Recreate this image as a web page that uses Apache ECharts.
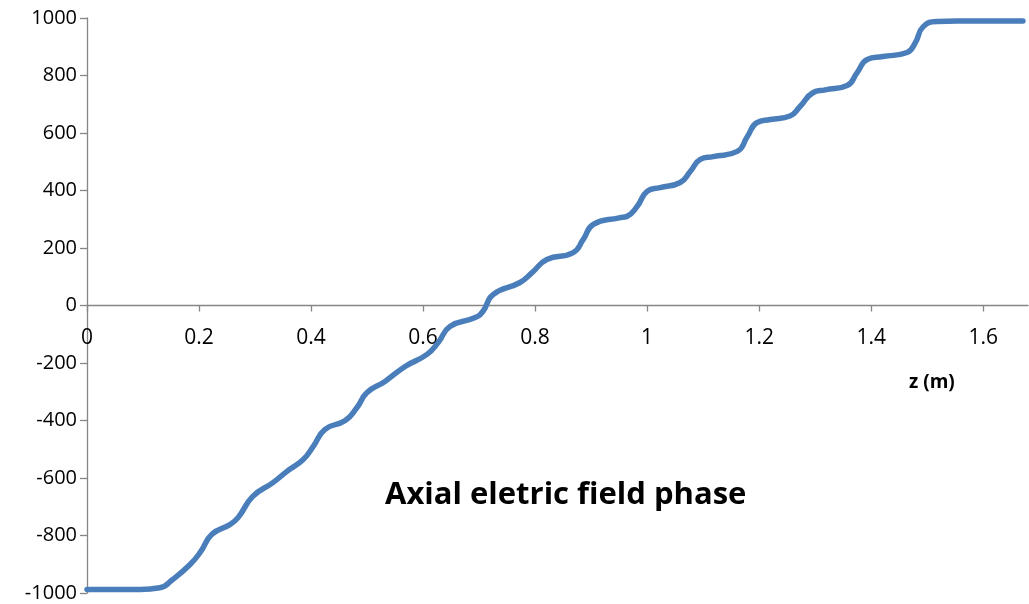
<!DOCTYPE html>
<html>
<head>
<meta charset="utf-8">
<script src="https://cdn.jsdelivr.net/npm/echarts@6/dist/echarts.min.js"></script>
<style>
html,body{margin:0;padding:0;background:#fff;}
#chart{width:1029px;height:604px;}
</style>
</head>
<body>
<div id="chart"></div>
<script>
// Data
const zValues = [0, 0.095, 0.130, 0.153, 0.184, 0.202, 0.223, 0.255, 0.270, 0.296, 0.332, 0.357, 0.386, 0.404, 0.425, 0.461, 0.482, 0.500, 0.532, 0.568, 0.607, 0.627, 0.648, 0.693, 0.707, 0.725, 0.773, 0.795, 0.821, 0.868, 0.886, 0.904, 0.950, 0.964, 0.982, 1.000, 1.023, 1.059, 1.077, 1.095, 1.118, 1.161, 1.179, 1.196, 1.220, 1.255, 1.273, 1.296, 1.318, 1.357, 1.375, 1.393, 1.421, 1.464, 1.479, 1.493, 1.518, 1.554, 1.671];
const phaseValues = [-988, -988, -982, -953, -901, -859, -796, -762, -737, -664, -616, -577, -536, -490, -431, -400, -355, -303, -264, -212, -170, -129, -73, -42, -20, 38, 80, 115, 160, 184, 230, 282, 305, 310, 344, 397, 410, 428, 466, 508, 518, 536, 588, 636, 647, 659, 692, 740, 750, 765, 810, 856, 866, 880, 915, 970, 988, 990, 990];
const xTickValues = [0, 0.2, 0.4, 0.6, 0.8, 1, 1.2, 1.4, 1.6];
const chartTitle = 'Axial eletric field phase';
const xAxisName = 'z (m)';

const seriesData = zValues.map((z, i) => [z, phaseValues[i]]);

const chart = echarts.init(document.getElementById('chart'));
const axisColor = '#868686';
const gridTop = 18, gridBottom = 11, chartH = 604;
const plotH = chartH - gridTop - gridBottom;
chart.setOption({
  animation: false,
  backgroundColor: '#ffffff',
  grid: { left: 87, right: 1, top: gridTop, bottom: gridBottom, containLabel: false },
  xAxis: {
    type: 'value', min: 0, max: 1.68, interval: 0.2,
    position: 'bottom',
    offset: -plotH / 2,
    axisLine: { onZero: false, lineStyle: { color: axisColor, width: 1.3 } },
    axisTick: { show: true, inside: false, length: 6, customValues: xTickValues, lineStyle: { color: axisColor, width: 1.3 } },
    axisLabel: {
      customValues: xTickValues, margin: 22,
      color: '#000', fontFamily: 'Open Sans', fontSize: 21,
      formatter: v => String(Math.round(v * 10) / 10)
    },
    splitLine: { show: false }
  },
  yAxis: {
    type: 'value', min: -1000, max: 1000, interval: 200,
    axisLine: { show: true, onZero: false, lineStyle: { color: axisColor, width: 1.3 } },
    axisTick: { show: true, inside: false, length: 7, lineStyle: { color: axisColor, width: 1.3 } },
    axisLabel: { margin: 10, color: '#000', fontFamily: 'Open Sans', fontSize: 20, formatter: v => String(v) },
    splitLine: { show: false }
  },
  graphic: [
    { type: 'text', left: 385, top: 480, style: { text: chartTitle, fill: '#000', font: 'bold 31px "Open Sans"' } },
    { type: 'text', left: 909, top: 373, style: { text: xAxisName, fill: '#000', font: 'bold 19px "Open Sans"' } }
  ],
  series: [{
    type: 'line',
    data: seriesData,
    showSymbol: false,
    smooth: 0.5,
    lineStyle: { color: '#4a7ebb', width: 5.5, cap: 'round', join: 'round' },
    z: 3
  }]
});
</script>
</body>
</html>
